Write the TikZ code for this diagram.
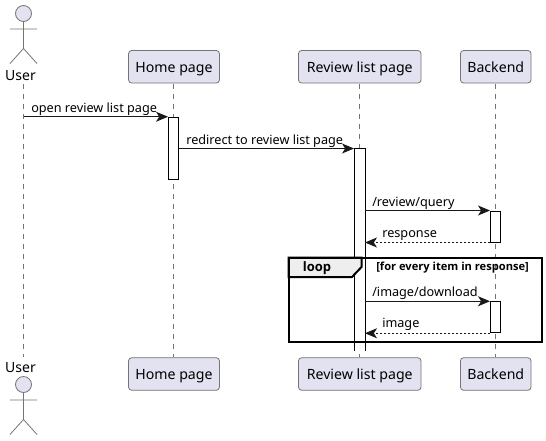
\documentclass[tikz,border=0pt]{standalone}
\usepackage{fontspec}
\setmainfont{Noto Sans}
\newfontfamily\framefont{Open Sans}
\usetikzlibrary{arrows.meta, positioning}
\definecolor{partfill}{RGB}{226,226,240}
\definecolor{partline}{RGB}{24,24,24}
\definecolor{headfill}{RGB}{238,238,238}
\begin{document}
\begin{tikzpicture}[
      x=0.75pt, y=-0.75pt,
      part/.style={rectangle, draw=partline!60, line width=0.6pt, rounded corners=2.5pt, fill=partfill,
                   minimum height=24.5pt, inner xsep=0pt, inner ysep=0pt, text height=10.8pt, text depth=2.4pt,
                   font=\fontsize{10.6pt}{12pt}\selectfont},
      actorname/.style={inner sep=0pt, font=\fontsize{10.5pt}{12pt}\selectfont},
      life/.style={draw=partline!60, line width=0.6pt, dash pattern=on 3.75pt off 3.75pt},
      act/.style={rectangle, draw=black, line width=0.75pt, fill=white, minimum width=7.5pt, inner sep=0pt},
      msg/.style={-{Stealth[length=9pt, width=7.5pt, inset=2.4pt]}, line width=0.75pt, draw=black!90},
      ret/.style={msg, dash pattern=on 1.5pt off 1.5pt},
      lbl/.style={anchor=base west, inner sep=0pt, font=\fontsize{9.5pt}{12pt}\selectfont},
      actorfig/.pic={
        \draw[partline!60, line width=0.6pt, fill=partfill] (0,0) circle[radius=8];
        \draw[partline!60, line width=0.6pt] (0,8) -- (0,35) (-13.5,15.5) -- (13.5,15.5)
          (-13.5,50) -- (0,35) -- (13.5,50);
      }
    ]
    \useasboundingbox (0,0) rectangle (546,440);

    % top row
    \pic at (23.5,13.5) {actorfig};
    \node[actorname] (userTop) at (20.5,76) {User};
    \node[part, minimum width=68.25pt] (homeTop) at (174,66.75) {Home page};
    \node[part, minimum width=92pt] (reviewTop) at (359.75,66.75) {Review list page};
    \node[part, minimum width=53pt] (backTop) at (495.75,66.75) {Backend};

    % bottom row
    \pic at (23.5,384.5) {actorfig};
    \node[actorname] (userBot) at (20.5,368) {User};
    \node[part, minimum width=68.25pt] (homeBot) at (174,374) {Home page};
    \node[part, minimum width=92pt] (reviewBot) at (359.75,374) {Review list page};
    \node[part, minimum width=53pt] (backBot) at (495.75,374) {Backend};

    % lifelines
    \coordinate (userA) at (23.5,84);
    \coordinate (userB) at (23.5,357);
    \coordinate (homeA) at (173.5,84);
    \coordinate (reviewA) at (359.5,84);
    \coordinate (backA) at (495.5,84);
    \draw[life] (userA) -- (userB);
    \draw[life] (homeA) -- (homeA |- homeBot.north);
    \draw[life] (reviewA) -- (reviewA |- reviewBot.north);
    \draw[life] (backA) -- (backA |- backBot.north);

    % activations
    \node[act, minimum height=46.5pt] (homeAct) at (173.5,148.25) {};
    \node[act, draw=none, minimum height=150.75pt] (reviewAct) at (359.5,249.5) {};
    \draw[black, line width=0.75pt] (reviewAct.south west) -- (reviewAct.north west)
      -- (reviewAct.north east) -- (reviewAct.south east);
    \node[act, minimum height=23.25pt] (backActA) at (495.5,226.5) {};
    \node[act, minimum height=23.25pt] (backActB) at (495.5,317.25) {};

    % messages
    \draw[msg] (userA |- homeAct.north west) -- (homeAct.north west);
    \coordinate (redirect) at (homeAct.east |- reviewAct.north west);
    \draw[msg] (redirect) -- (reviewAct.north west);
    \draw[msg] (reviewAct.east |- backActA.north west) -- (backActA.north west);
    \draw[ret] (backActA.south west) -- (reviewAct.east |- backActA.south west);
    \draw[msg] (reviewAct.east |- backActB.north west) -- (backActB.north west);
    \draw[ret] (backActB.south west) -- (reviewAct.east |- backActB.south west);

    \node[lbl] (openLbl) at (31,112.5) {open review list page};
    \node[lbl] (redirectLbl) at (186,144.5) {redirect to review list page};
    \node[lbl] (queryLbl) at (372,206) {/review/query};
    \node[lbl] (respLbl) at (382,237) {response};
    \node[lbl] (downLbl) at (372,296.5) {/image/download};
    \node[lbl] (imageLbl) at (382,327.5) {image};

    % loop frame
    \draw[black, line width=1.5pt, fill=headfill] (288.5,257.5) -- (361.5,257.5) -- (361.5,267) -- (352,277)
      -- (288.5,277) -- cycle;
    \draw[black, line width=1.5pt] (288.5,257.5) rectangle (541.5,341.5);
    \node[inner sep=0pt, font=\framefont\fontsize{9.75pt}{12pt}\selectfont\bfseries] (loopLbl) at (317,268) {loop};
    \node[inner sep=0pt, anchor=west, font=\framefont\fontsize{8.35pt}{10pt}\selectfont\bfseries] (condLbl) at (376,268) {[for every item in response]};
  \end{tikzpicture}
\end{document}
